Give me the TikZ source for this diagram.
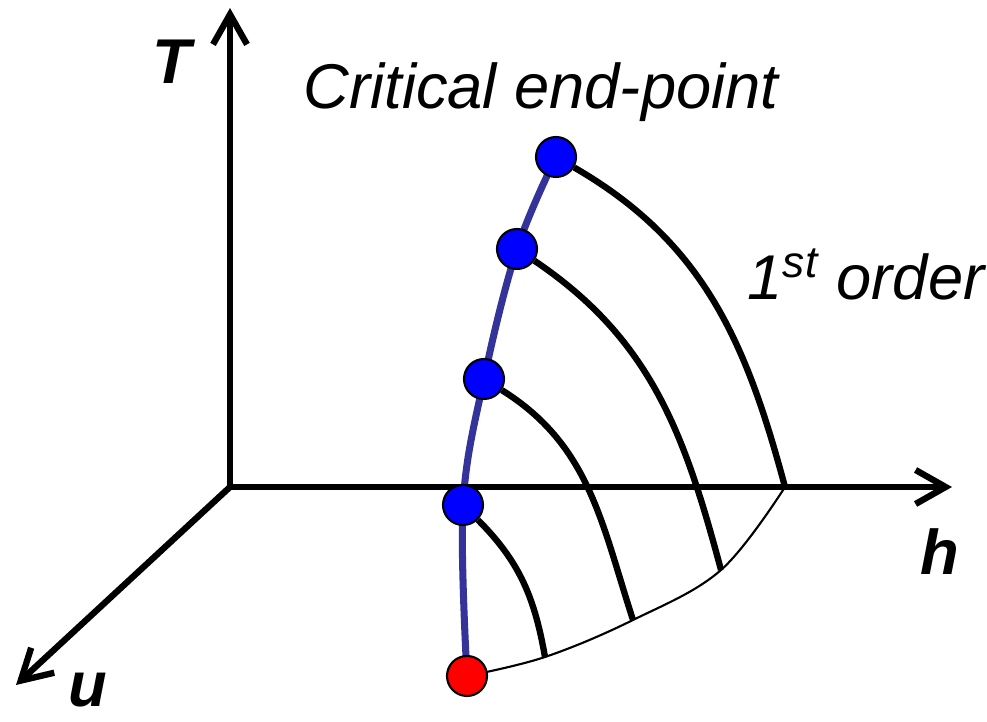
\documentclass[tikz,border=0pt]{standalone}
\usepackage{fontspec}
\setmainfont{Liberation Sans}
\usetikzlibrary{arrows.meta,backgrounds}
\definecolor{critblue}{RGB}{51,51,153}

\begin{document}
\begin{tikzpicture}[
  axis/.style={line width=1.8pt, -{Straight Barb[length=3mm,width=3.4mm]}},
  branch/.style={line width=1.8pt},
  dot/.style={circle, draw, line width=0.6pt, minimum size=0.4cm, inner sep=0pt},
  lbl/.style={font=\fontsize{18}{20}\selectfont\itshape},
  axlbl/.style={font=\fontsize{18}{20}\selectfont\bfseries\itshape}]
\useasboundingbox (0,0) rectangle (9.87,7.22);
% --- assi ---
\coordinate (O) at (2.30,2.35);
\coordinate (Ttip) at (2.30,7.14);
\coordinate (htip) at (9.52,2.35);
\coordinate (utip) at (0.16,0.37);
\draw[axis] (O) -- (Ttip);
\draw[axis] (O) -- (htip);
\draw[axis] (O) -- (utip);
\node[axlbl] (Tlab) at (1.72,6.60) {T};
\node[axlbl] (hlab) at (9.40,1.70) {h};
\node[axlbl, inner sep=1pt] (ulab) at (0.88,0.32) {u};
% --- punti critici ---
\node[dot, fill=blue] (c1) at (5.56,5.65) {};
\node[dot, fill=blue] (c2) at (5.17,4.73) {};
\node[dot, fill=blue] (c3) at (4.84,3.43) {};
\node[dot, fill=blue] (c4) at (4.63,2.17) {};
\node[dot, fill=red] (tcp) at (4.67,0.46) {};
\coordinate (e1) at (7.85,2.35);
\coordinate (e2) at (7.21,1.52);
\coordinate (e3) at (6.33,1.02);
\coordinate (e4) at (5.45,0.65);
% --- linee di transizione ---
\begin{scope}[on background layer]
\draw[line width=2pt, critblue] plot[smooth, tension=0.6] coordinates
  {(c1.center) (c2.center) (c3.center) (c4.center) (tcp.center)};
\draw[line width=0.6pt] plot[smooth, tension=0.6] coordinates
  {(tcp.center) (e4) (e3) (e2) (e1)};
\end{scope}
\draw[branch] (c1) to[out=-30, in=105] (e1);
\draw[branch] (c2) to[out=-34, in=105] (e2);
\draw[branch] (c3) to[out=-32, in=108] (e3);
\draw[branch] (c4) to[out=-45, in=100] (e4);
% --- testi ---
\node[lbl] (cep) at (5.41,6.30) {Critical end-point};
\node[lbl] (first) at (8.66,4.47) {1\textsuperscript{st} order};
\end{tikzpicture}
\end{document}
